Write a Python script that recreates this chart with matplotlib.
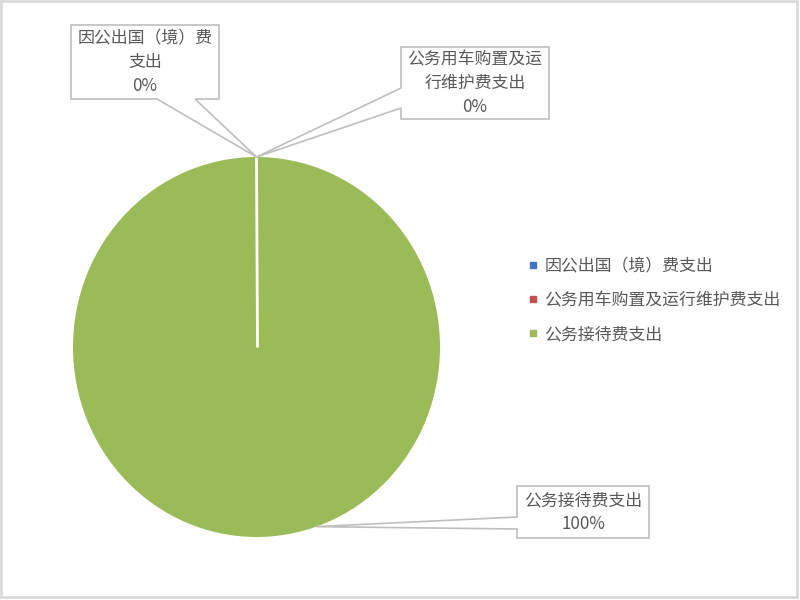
import numpy as np
import matplotlib
matplotlib.use('Agg')
import matplotlib.pyplot as plt
from matplotlib.patches import Polygon, Rectangle
from matplotlib.lines import Line2D

plt.rcParams['font.family'] = ['Noto Sans CJK SC', 'DejaVu Sans']

# data
categories = ['因公出国（境）费支出', '公务用车购置及运行维护费支出', '公务接待费支出']
values = [0, 0, 100]
colors = ['#4472C4', '#C0504D', '#9BBB59']
callout_texts = ['因公出国（境）费\n支出\n0%', '公务用车购置及运\n行维护费支出\n0%', '公务接待费支出\n100%']

text_color = '#595959'
box_edge = '#BFBFBF'

fig = plt.figure(figsize=(8, 6), dpi=100)

# pie axes (slightly taller than wide, like the original)
ax = fig.add_axes([73 / 800, 63 / 600, 367 / 800, 380 / 600])
wedges, _ = ax.pie(values, colors=colors, startangle=90, counterclock=False,
                   wedgeprops=dict(linewidth=0))
ax.set_xlim(-1, 1)
ax.set_ylim(-1, 1)
ax.set_aspect('auto')

# white slice boundary from the centre to the start of the big slice
a = np.deg2rad(wedges[2].theta2)
ax.plot([0, np.cos(a)], [0, np.sin(a)], color='white', lw=2, solid_capstyle='butt')

# overlay in pixel coordinates (y downwards) for callouts and frame
ov = fig.add_axes([0, 0, 1, 1], zorder=5)
ov.set_xlim(0, 800)
ov.set_ylim(600, 0)
ov.axis('off')
ov.patch.set_alpha(0)


def pie_point(angle_deg):
    t = np.deg2rad(angle_deg)
    disp = ax.transData.transform((np.cos(t), np.sin(t)))
    return ov.transData.inverted().transform(disp)


fig.canvas.draw()
tip_top = pie_point(90)
tip_big = pie_point(-71)

# callout boxes: (x0, y0, x1, y1), notch side, notch positions
callouts = [
    ((71, 25, 219, 99), 'bottom', (157, 195), tip_top),
    ((401, 47, 549, 119), 'left', (88, 108), tip_top),
    ((517, 486, 649, 538), 'left', (517, 529), tip_big),
]

for (box, side, notch, tip), txt in zip(callouts, callout_texts):
    x0, y0, x1, y1 = box
    if side == 'bottom':
        pts = [(x0, y0), (x1, y0), (x1, y1), (notch[1], y1), tuple(tip),
               (notch[0], y1), (x0, y1)]
    else:
        pts = [(x0, y0), (x1, y0), (x1, y1), (x0, y1), (x0, notch[1]),
               tuple(tip), (x0, notch[0])]
    ov.add_patch(Polygon(pts, closed=True, facecolor='white', edgecolor=box_edge,
                         lw=1.2, joinstyle='miter'))
    ov.text((x0 + x1) / 2, (y0 + y1) / 2, txt, ha='center', va='center',
            fontsize=12.2, color=text_color, linespacing=1.42, multialignment='center')

# figure frame
ov.add_patch(Rectangle((1, 1), 796, 596, fill=False, edgecolor='#D9D9D9', lw=2))

# legend
handles = [Line2D([], [], marker='s', linestyle='none', markersize=5,
                  markerfacecolor=c, markeredgecolor=c) for c in colors]
fig.legend(handles, categories, loc='center left', bbox_to_anchor=(513 / 800, 1 - 300 / 600),
           frameon=False, fontsize=12.2, labelcolor=text_color, handlelength=0.6,
           handletextpad=0.35, labelspacing=0.95)

fig.savefig('out.png', dpi=100)
